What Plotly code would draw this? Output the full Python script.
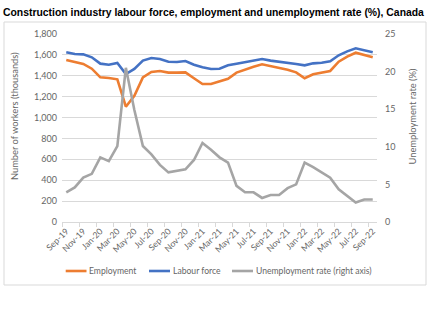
import plotly.graph_objects as go

months = ["Sep-19","Oct-19","Nov-19","Dec-19","Jan-20","Feb-20","Mar-20","Apr-20","May-20","Jun-20",
          "Jul-20","Aug-20","Sep-20","Oct-20","Nov-20","Dec-20","Jan-21","Feb-21","Mar-21","Apr-21",
          "May-21","Jun-21","Jul-21","Aug-21","Sep-21","Oct-21","Nov-21","Dec-21","Jan-22","Feb-22",
          "Mar-22","Apr-22","May-22","Jun-22","Jul-22","Aug-22","Sep-22"]

employment = [1551,1532,1513,1468,1385,1379,1366,1104,1209,1385,
              1436,1446,1430,1430,1433,1376,1321,1321,1343,1372,
              1430,1462,1487,1510,1494,1478,1458,1433,1376,1414,
              1427,1446,1535,1583,1621,1599,1577]

labour_force = [1625,1608,1605,1577,1516,1506,1522,1417,1465,1545,
                1570,1560,1535,1532,1541,1506,1481,1465,1468,1500,
                1516,1529,1548,1560,1545,1535,1529,1513,1500,1519,
                1525,1538,1596,1634,1663,1647,1625]

unemp_rate = [3.95,4.6,5.9,6.4,8.6,8.1,10.1,20.5,14.9,10.1,
              9.0,7.6,6.6,6.8,7.0,8.25,10.5,9.6,8.6,7.9,
              4.8,3.95,3.95,3.2,3.6,3.6,4.5,5.0,7.9,7.3,
              6.6,5.9,4.35,3.45,2.6,3.0,3.0]

series_names = ["Employment", "Labour force", "Unemployment rate (right axis)"]
series_colors = ["#ED7D31", "#4472C4", "#A5A5A5"]

left_ticks = list(range(0, 1801, 200))
right_ticks = list(range(0, 26, 5))

FONT = "Lato"
TXT = "#666666"
GRID = "#d9d9d9"

L, R, T, B = 62, 377, 34, 222
W, H = 430, 322
pw, ph = R - L, B - T

def px(x):
    return (x - L) / pw

def py(y):
    return (B - y) / ph

idx = list(range(len(months)))

fig = go.Figure()
for name, vals, col, ax in zip(series_names, [employment, labour_force, unemp_rate],
                               series_colors, ["y", "y", "y2"]):
    fig.add_trace(go.Scatter(x=idx, y=vals, name=name, mode="lines",
                             line=dict(color=col, width=2.6), yaxis=ax, showlegend=False))

# manual legend (short line samples like the original)
legend_line_x = [(65.7, 86.5), (149, 170), (232, 253)]
legend_y = 271
shapes = [dict(type="rect", xref="paper", yref="paper",
               x0=px(4), x1=px(426), y0=py(285), y1=py(22),
               line=dict(color=GRID, width=1), layer="below")]
annotations = [
    dict(text="Number of workers (thousands)", xref="paper", yref="paper",
         x=px(14), y=py(116), textangle=-90, showarrow=False,
         xanchor="center", yanchor="middle",
         font=dict(family=FONT, size=9.3, color=TXT)),
    dict(text="Unemployment rate (%)", xref="paper", yref="paper",
         x=px(411.5), y=py(116), textangle=-90, showarrow=False,
         xanchor="center", yanchor="middle",
         font=dict(family=FONT, size=9.3, color=TXT)),
]
for (x0, x1), name, col in zip(legend_line_x, series_names, series_colors):
    shapes.append(dict(type="line", xref="paper", yref="paper",
                       x0=px(x0), x1=px(x1), y0=py(legend_y), y1=py(legend_y),
                       line=dict(color=col, width=2.6)))
    annotations.append(dict(text=name, xref="paper", yref="paper",
                            x=px(x1 + 0.5), y=py(legend_y), showarrow=False,
                            xanchor="left", yanchor="middle",
                            font=dict(family=FONT, size=8.6, color=TXT)))

fig.update_layout(
    width=W, height=H,
    margin=dict(l=L, r=W - R, t=T, b=H - B),
    paper_bgcolor="white", plot_bgcolor="white",
    font=dict(family=FONT, size=9, color=TXT),
    title=dict(text="<b>Construction industry labour force, employment and unemployment rate (%), Canada</b>",
               x=3 / W, xanchor="left", y=1 - 12.5 / H, yanchor="middle",
               font=dict(family="Liberation Sans", size=10.4, color="black")),
    xaxis=dict(range=[-0.5, len(months) - 0.5],
               tickmode="array", tickvals=idx[::2], ticktext=months[::2],
               tickangle=-45, ticks="", showgrid=False, zeroline=False,
               showline=True, linecolor=GRID, linewidth=1,
               tickfont=dict(family=FONT, size=8.6, color=TXT),
               minor=dict(tickmode="array", tickvals=[i - 0.5 for i in idx[::2]],
                          ticks="outside", ticklen=4, tickcolor=GRID, showgrid=False)),
    yaxis=dict(range=[0, 1800], tickmode="array", tickvals=left_ticks,
               ticktext=[f"{v:,}" for v in left_ticks],
               showgrid=True, gridcolor=GRID, gridwidth=1, zeroline=False,
               ticks="", ticklabelstandoff=4,
               tickfont=dict(family=FONT, size=9, color=TXT)),
    yaxis2=dict(range=[0, 25], tickmode="array", tickvals=right_ticks,
                overlaying="y", side="right", showgrid=False, zeroline=False,
                ticks="", ticklabelstandoff=7,
                tickfont=dict(family=FONT, size=9, color=TXT)),
    showlegend=False,
    shapes=shapes,
    annotations=annotations,
)

fig.write_html("out.html")
